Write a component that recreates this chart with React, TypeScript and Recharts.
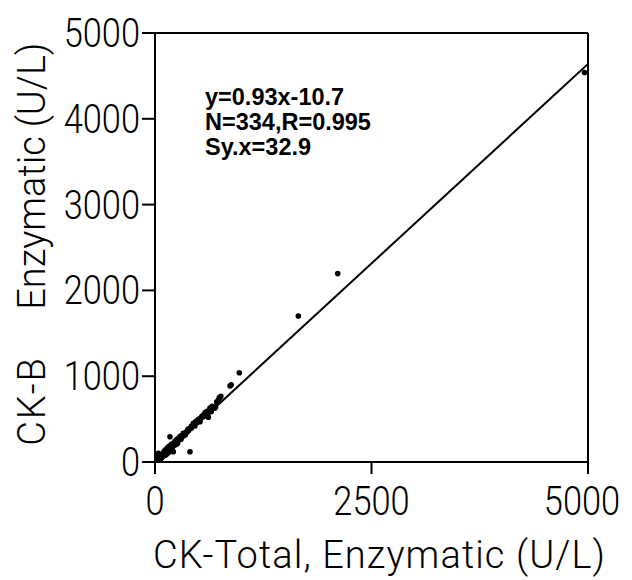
import React from 'react';
import {
  ScatterChart,
  Scatter,
  XAxis,
  YAxis,
  ReferenceLine,
} from 'recharts';

// CK-Total (x) vs CK-B (y), U/L
const totalValues = [
  4960, 2110, 1655, 974, 880, 866, 760, 751, 742, 730, 712, 690, 660, 635, 630, 616,
  600, 590, 580, 558, 540, 525, 510, 500, 490, 470, 455, 443, 430, 420, 410, 404,
  400, 390, 380, 372, 360, 350, 340, 332, 327, 318, 310, 300, 295, 288, 280, 275,
  268, 260, 255, 250, 244, 238, 230, 225, 220, 215, 211, 205, 200, 195, 190, 185,
  180, 173, 170, 165, 160, 154, 150, 145, 140, 135, 130, 125, 120, 115, 110, 105,
  100, 95, 90, 85, 80, 75, 70, 65, 60, 55, 50, 45, 40, 38, 35, 30, 25, 20, 15, 10,
  120, 140, 160, 180, 200, 90, 70, 60, 240, 260, 300, 320, 350, 380, 420, 460,
  480, 520, 560, 610, 650, 700, 110, 130, 150, 170, 190, 210, 230, 250, 270, 290,
  20, 30, 45, 55, 65, 75, 85, 100, 5, 12,
];
const ckbValues = [
  4540, 2196, 1702, 1041, 900, 886, 765, 754, 748, 720, 700, 626, 650, 630, 600, 521,
  590, 575, 575, 548, 530, 505, 500, 495, 480, 470, 440, 451, 420, 415, 395, 120,
  390, 370, 380, 350, 350, 330, 330, 310, 335, 300, 300, 290, 270, 285, 270, 255,
  250, 250, 235, 256, 230, 220, 225, 200, 210, 195, 120, 190, 190, 175, 180, 170,
  170, 295, 160, 150, 150, 178, 140, 135, 130, 120, 120, 115, 110, 105, 100, 95,
  95, 85, 85, 75, 75, 65, 60, 55, 55, 50, 45, 40, 35, 101, 30, 25, 20, 15, 10, 8,
  80, 95, 115, 130, 150, 60, 40, 30, 200, 215, 265, 310, 315, 360, 395, 420,
  455, 470, 530, 560, 590, 640, 130, 150, 165, 185, 205, 215, 240, 260, 275, 300,
  40, 60, 20, 70, 40, 90, 60, 110, 30, 40,
];

const regressionSlope = 0.93;
const regressionIntercept = -10.7;
const regressionRange = [0, 5000];

const xTicks = [0, 2500, 5000];
const yTicks = [0, 1000, 2000, 3000, 4000, 5000];

const statLines = ['y=0.93x-10.7', 'N=334,R=0.995', 'Sy.x=32.9'];

const xLabel = 'CK-Total, Enzymatic (U/L)';
const yLabelParts = ['CK-B', 'Enzymatic', '(U/L)'];

const points = totalValues.map((x, i) => ({ x, y: ckbValues[i] }));
const regressionSegment = regressionRange.map((x) => ({
  x,
  y: regressionSlope * x + regressionIntercept,
}));

const thinFont = "Roboto, 'DejaVu Sans', sans-serif";

const Dot = (props: any) => (
  <circle cx={props.cx} cy={props.cy} r={2.8} fill="#000" />
);

const XTick = (props: any) => {
  const { x, y, payload } = props;
  const isLast = payload.value === 5000;
  const cx = isLast ? x - 6 : x;
  return (
    <text
      transform={`translate(${cx}, ${y + 31}) scale(0.86, 1)`}
      textAnchor="middle"
      fontFamily={thinFont}
      fontWeight={300}
      fontSize={40}
      fill="#000"
    >
      {payload.value}
    </text>
  );
};

const YTick = (props: any) => {
  const { x, y, payload } = props;
  return (
    <text
      transform={`translate(${x}, ${y + 14}) scale(0.86, 1)`}
      textAnchor="end"
      fontFamily={thinFont}
      fontWeight={300}
      fontSize={40}
      fill="#000"
    >
      {payload.value}
    </text>
  );
};

const XLabel = (props: any) => {
  const vb = props.viewBox || {};
  return (
    <text
      x={vb.x + vb.width / 2 + 8}
      y={vb.y + 106}
      textAnchor="middle"
      fontFamily={thinFont}
      fontWeight={300}
      fontSize={38}
      letterSpacing={1.1}
      fill="#000"
    >
      {xLabel}
    </text>
  );
};

const YLabel = (props: any) => {
  const vb = props.viewBox || {};
  const bx = 45;
  const top = vb.y;
  // centers of each word along the axis (relative to plot top)
  const centers = [368, 190, 52];
  return (
    <g>
      {yLabelParts.map((t, i) => (
        <text
          key={t}
          x={bx}
          y={top + centers[i]}
          transform={`rotate(-90, ${bx}, ${top + centers[i]})`}
          textAnchor="middle"
          fontFamily={thinFont}
          fontWeight={300}
          fontSize={38}
          letterSpacing={i === 0 ? 2 : 0}
          fill="#000"
        >
          {t}
        </text>
      ))}
    </g>
  );
};

const StatsLabel = () => {
  const x0 = 205;
  const y0 = 105;
  return (
    <g>
      {statLines.map((t, i) => (
        <text
          key={t}
          x={x0}
          y={y0 + i * 25}
          fontFamily="'Liberation Sans', Arial, sans-serif"
          fontWeight="bold"
          fontSize={23.5}
          fill="#000"
        >
          {t}
        </text>
      ))}
    </g>
  );
};

export default function App() {
  return (
    <div style={{ position: 'absolute', left: 0, top: 0, width: 632, height: 580, background: '#fff' }}>
      <ScatterChart
        width={632}
        height={580}
        margin={{ top: 33, right: 44, left: 0, bottom: 0 }}
      >
        <XAxis
          type="number"
          dataKey="x"
          domain={[0, 5000]}
          ticks={xTicks}
          allowDataOverflow
          height={118}
          tickSize={12}
          tickMargin={10}
          axisLine={{ stroke: '#000', strokeWidth: 2 }}
          tickLine={{ stroke: '#000', strokeWidth: 2 }}
          tick={XTick}
          label={{ content: XLabel }}
        />
        <YAxis
          type="number"
          dataKey="y"
          domain={[0, 5000]}
          ticks={yTicks}
          allowDataOverflow
          width={155}
          tickSize={13}
          tickMargin={2}
          axisLine={{ stroke: '#000', strokeWidth: 2 }}
          tickLine={{ stroke: '#000', strokeWidth: 2 }}
          tick={YTick}
          label={{ content: YLabel }}
        />
        <ReferenceLine y={5000} stroke="#000" strokeWidth={2} ifOverflow="visible" />
        <ReferenceLine x={5000} stroke="#000" strokeWidth={2} ifOverflow="visible" label={{ content: StatsLabel }} />
        <ReferenceLine
          segment={regressionSegment}
          stroke="#000"
          strokeWidth={2}
          ifOverflow="hidden"
        />
        <Scatter data={points} shape={Dot} isAnimationActive={false} />
      </ScatterChart>
    </div>
  );
}
